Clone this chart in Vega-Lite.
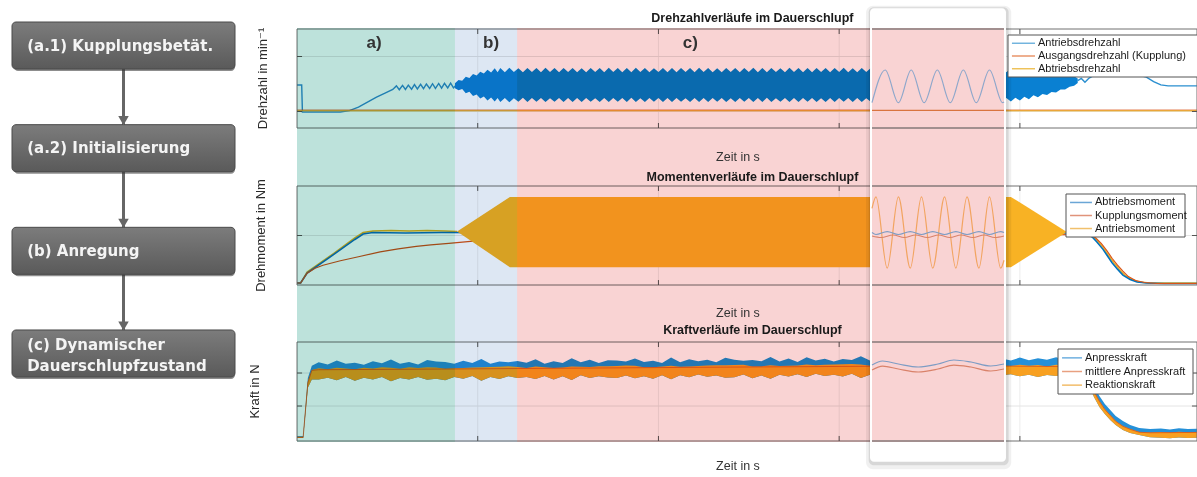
{
"$schema": "https://vega.github.io/schema/vega-lite/v6.json",
"width": 1197, "height": 477, "padding": 0, "autosize": {"type": "none"},
"background": "white",
"config": {"view": {"stroke": null}, "font": "Liberation Sans", "axis": {"disable": true}, "legend": {"disable": true}},
"datasets": {
"flow": [{"step":"(a.1) Kupplungsbetät.","next":"(a.2) Initialisierung"},{"step":"(a.2) Initialisierung","next":"(b) Anregung"},{"step":"(b) Anregung","next":"(c) Dynamischer\nDauerschlupfzustand"},{"step":"(c) Dynamischer\nDauerschlupfzustand","next":null}],
"phases": [{"phase":"a)","start":0,"end":4.37},{"phase":"b)","start":4.37,"end":6.09},{"phase":"c)","start":6.09,"end":19.59}],
"phaselabels": [{"label":"a)","t":2.13},{"label":"b)","t":5.37},{"label":"c)","t":10.88}],
"ticksx": [{"t":5},{"t":10},{"t":15},{"t":20}],
"ticks1": [{"v":0},{"v":1000}],
"ticks2": [{"v":0}],
"ticks3": [{"v":1000},{"v":2000}],
"p1lines": [
{"series":"Antriebsdrehzahl","seg":"a","t":0,"v":482},{"series":"Antriebsdrehzahl","seg":"a","t":0.13,"v":482},{"series":"Antriebsdrehzahl","seg":"a","t":0.15,"v":-9},{"series":"Antriebsdrehzahl","seg":"a","t":1.2,"v":-9},{"series":"Antriebsdrehzahl","seg":"a","t":1.45,"v":15},{"series":"Antriebsdrehzahl","seg":"a","t":1.7,"v":80},{"series":"Antriebsdrehzahl","seg":"a","t":1.95,"v":170},{"series":"Antriebsdrehzahl","seg":"a","t":2.2,"v":260},{"series":"Antriebsdrehzahl","seg":"a","t":2.45,"v":340},{"series":"Antriebsdrehzahl","seg":"a","t":2.65,"v":400},{"series":"Antriebsdrehzahl","seg":"a","t":2.75,"v":465},{"series":"Antriebsdrehzahl","seg":"a","t":2.83,"v":395},{"series":"Antriebsdrehzahl","seg":"a","t":2.92,"v":475},{"series":"Antriebsdrehzahl","seg":"a","t":3.0,"v":400},{"series":"Antriebsdrehzahl","seg":"a","t":3.08,"v":480},{"series":"Antriebsdrehzahl","seg":"a","t":3.17,"v":405},{"series":"Antriebsdrehzahl","seg":"a","t":3.25,"v":490},{"series":"Antriebsdrehzahl","seg":"a","t":3.33,"v":410},{"series":"Antriebsdrehzahl","seg":"a","t":3.42,"v":495},{"series":"Antriebsdrehzahl","seg":"a","t":3.5,"v":415},{"series":"Antriebsdrehzahl","seg":"a","t":3.58,"v":500},{"series":"Antriebsdrehzahl","seg":"a","t":3.67,"v":420},{"series":"Antriebsdrehzahl","seg":"a","t":3.75,"v":505},{"series":"Antriebsdrehzahl","seg":"a","t":3.83,"v":420},{"series":"Antriebsdrehzahl","seg":"a","t":3.92,"v":510},{"series":"Antriebsdrehzahl","seg":"a","t":4.0,"v":425},{"series":"Antriebsdrehzahl","seg":"a","t":4.08,"v":512},{"series":"Antriebsdrehzahl","seg":"a","t":4.17,"v":428},{"series":"Antriebsdrehzahl","seg":"a","t":4.25,"v":515},{"series":"Antriebsdrehzahl","seg":"a","t":4.33,"v":430},{"series":"Antriebsdrehzahl","seg":"a","t":4.4,"v":480},
{"series":"Antriebsdrehzahl","seg":"b","t":21.6,"v":560},{"series":"Antriebsdrehzahl","seg":"b","t":21.7,"v":600},{"series":"Antriebsdrehzahl","seg":"b","t":21.8,"v":530},{"series":"Antriebsdrehzahl","seg":"b","t":21.9,"v":600},{"series":"Antriebsdrehzahl","seg":"b","t":22.0,"v":640},{"series":"Antriebsdrehzahl","seg":"b","t":22.3,"v":660},{"series":"Antriebsdrehzahl","seg":"b","t":22.8,"v":655},{"series":"Antriebsdrehzahl","seg":"b","t":23.3,"v":660},{"series":"Antriebsdrehzahl","seg":"b","t":23.5,"v":625},{"series":"Antriebsdrehzahl","seg":"b","t":23.7,"v":545},{"series":"Antriebsdrehzahl","seg":"b","t":23.9,"v":485},{"series":"Antriebsdrehzahl","seg":"b","t":24.1,"v":466},{"series":"Antriebsdrehzahl","seg":"b","t":24.9,"v":466},
{"series":"Ausgangsdrehzahl (Kupplung)","seg":"a","t":0,"v":25},{"series":"Ausgangsdrehzahl (Kupplung)","seg":"a","t":24.9,"v":25},
{"series":"Abtriebsdrehzahl","seg":"a","t":0,"v":12},{"series":"Abtriebsdrehzahl","seg":"a","t":24.9,"v":12}
],
"p1band": [
{"t":4.37,"hi":515,"lo":425},{"t":4.47,"hi":575,"lo":385},{"t":4.57,"hi":560,"lo":410},{"t":4.67,"hi":630,"lo":330},{"t":4.77,"hi":610,"lo":360},{"t":4.87,"hi":680,"lo":280},{"t":4.97,"hi":655,"lo":310},{"t":5.07,"hi":725,"lo":235},{"t":5.17,"hi":690,"lo":275},{"t":5.27,"hi":760,"lo":200},{"t":5.37,"hi":710,"lo":255},{"t":5.47,"hi":785,"lo":180},{"t":5.55,"hi":715,"lo":245},
{"t":5.625,"hi":790,"lo":175},{"t":5.75,"hi":715,"lo":245},{"t":5.875,"hi":795,"lo":170},{"t":6.0,"hi":718,"lo":242},{"t":6.125,"hi":788,"lo":178},{"t":6.25,"hi":712,"lo":248},{"t":6.375,"hi":792,"lo":172},{"t":6.5,"hi":716,"lo":244},{"t":6.625,"hi":790,"lo":176},{"t":6.75,"hi":714,"lo":246},{"t":6.875,"hi":794,"lo":171},{"t":7.0,"hi":717,"lo":243},{"t":7.125,"hi":789,"lo":177},{"t":7.25,"hi":713,"lo":247},{"t":7.375,"hi":791,"lo":173},{"t":7.5,"hi":716,"lo":244},{"t":7.625,"hi":793,"lo":175},{"t":7.75,"hi":715,"lo":245},{"t":7.875,"hi":788,"lo":172},{"t":8.0,"hi":714,"lo":246},{"t":8.125,"hi":792,"lo":176},{"t":8.25,"hi":717,"lo":243},{"t":8.375,"hi":790,"lo":174},{"t":8.5,"hi":713,"lo":247},{"t":8.625,"hi":795,"lo":171},{"t":8.75,"hi":716,"lo":244},{"t":8.875,"hi":789,"lo":177},{"t":9.0,"hi":715,"lo":245},{"t":9.125,"hi":791,"lo":173},{"t":9.25,"hi":712,"lo":248},{"t":9.375,"hi":794,"lo":175},{"t":9.5,"hi":717,"lo":243},{"t":9.625,"hi":790,"lo":172},{"t":9.75,"hi":714,"lo":246},{"t":9.875,"hi":788,"lo":176},{"t":10.0,"hi":716,"lo":244},{"t":10.125,"hi":793,"lo":174},{"t":10.25,"hi":715,"lo":245},{"t":10.375,"hi":790,"lo":171},{"t":10.5,"hi":713,"lo":247},{"t":10.625,"hi":792,"lo":177},{"t":10.75,"hi":717,"lo":243},{"t":10.875,"hi":789,"lo":173},{"t":11.0,"hi":714,"lo":246},{"t":11.125,"hi":795,"lo":175},{"t":11.25,"hi":716,"lo":244},{"t":11.375,"hi":790,"lo":172},{"t":11.5,"hi":715,"lo":245},{"t":11.625,"hi":788,"lo":176},{"t":11.75,"hi":713,"lo":247},{"t":11.875,"hi":793,"lo":174},{"t":12.0,"hi":717,"lo":243},{"t":12.125,"hi":791,"lo":171},{"t":12.25,"hi":714,"lo":246},{"t":12.375,"hi":789,"lo":177},{"t":12.5,"hi":716,"lo":244},{"t":12.625,"hi":794,"lo":173},{"t":12.75,"hi":715,"lo":245},{"t":12.875,"hi":790,"lo":175},{"t":13.0,"hi":712,"lo":248},{"t":13.125,"hi":792,"lo":172},{"t":13.25,"hi":717,"lo":243},{"t":13.375,"hi":788,"lo":176},{"t":13.5,"hi":714,"lo":246},{"t":13.625,"hi":795,"lo":174},{"t":13.75,"hi":716,"lo":244},{"t":13.875,"hi":790,"lo":171},{"t":14.0,"hi":715,"lo":245},{"t":14.125,"hi":789,"lo":177},{"t":14.25,"hi":713,"lo":247},{"t":14.375,"hi":793,"lo":173},{"t":14.5,"hi":717,"lo":243},{"t":14.625,"hi":791,"lo":175},{"t":14.75,"hi":714,"lo":246},{"t":14.875,"hi":790,"lo":172},{"t":15.0,"hi":716,"lo":244},{"t":15.125,"hi":794,"lo":176},{"t":15.25,"hi":715,"lo":245},{"t":15.375,"hi":788,"lo":174},{"t":15.5,"hi":713,"lo":247},{"t":15.625,"hi":792,"lo":171},{"t":15.75,"hi":717,"lo":243},{"t":15.875,"hi":790,"lo":177},{"t":16.0,"hi":715,"lo":245},
{"t":19.5,"hi":790,"lo":175},{"t":19.625,"hi":715,"lo":245},{"t":19.75,"hi":790,"lo":180},{"t":19.875,"hi":715,"lo":250},{"t":20.0,"hi":785,"lo":200},{"t":20.125,"hi":710,"lo":270},{"t":20.25,"hi":775,"lo":225},{"t":20.375,"hi":705,"lo":295},{"t":20.5,"hi":760,"lo":260},{"t":20.625,"hi":695,"lo":320},{"t":20.75,"hi":740,"lo":300},{"t":20.875,"hi":680,"lo":355},{"t":21.0,"hi":715,"lo":345},{"t":21.125,"hi":660,"lo":400},{"t":21.25,"hi":680,"lo":400},{"t":21.375,"hi":630,"lo":450},{"t":21.5,"hi":640,"lo":470},{"t":21.6,"hi":600,"lo":520}
],
"p2lines": [
{"series":"Antriebsmoment","seg":"a","t":0,"v":-96},{"series":"Antriebsmoment","seg":"a","t":0.1,"v":-96},{"series":"Antriebsmoment","seg":"a","t":0.28,"v":-74},{"series":"Antriebsmoment","seg":"a","t":1.0,"v":-37},{"series":"Antriebsmoment","seg":"a","t":1.6,"v":-5},{"series":"Antriebsmoment","seg":"a","t":1.83,"v":6},{"series":"Antriebsmoment","seg":"a","t":2.1,"v":9},{"series":"Antriebsmoment","seg":"a","t":2.6,"v":10},{"series":"Antriebsmoment","seg":"a","t":3.1,"v":9},{"series":"Antriebsmoment","seg":"a","t":3.6,"v":10},{"series":"Antriebsmoment","seg":"a","t":4.1,"v":9},{"series":"Antriebsmoment","seg":"a","t":4.43,"v":8},
{"series":"Antriebsmoment","seg":"b","t":21.3,"v":7},{"series":"Antriebsmoment","seg":"b","t":21.86,"v":6},{"series":"Antriebsmoment","seg":"b","t":22.0,"v":0},{"series":"Antriebsmoment","seg":"b","t":22.13,"v":-9},{"series":"Antriebsmoment","seg":"b","t":22.3,"v":-24},{"series":"Antriebsmoment","seg":"b","t":22.45,"v":-40},{"series":"Antriebsmoment","seg":"b","t":22.6,"v":-55},{"series":"Antriebsmoment","seg":"b","t":22.75,"v":-68},{"series":"Antriebsmoment","seg":"b","t":22.9,"v":-80},{"series":"Antriebsmoment","seg":"b","t":23.1,"v":-89},{"series":"Antriebsmoment","seg":"b","t":23.3,"v":-94},{"series":"Antriebsmoment","seg":"b","t":23.6,"v":-96},{"series":"Antriebsmoment","seg":"b","t":24.9,"v":-96},
{"series":"Abtriebsmoment","seg":"a","t":0,"v":-96},{"series":"Abtriebsmoment","seg":"a","t":0.1,"v":-96},{"series":"Abtriebsmoment","seg":"a","t":0.28,"v":-76},{"series":"Abtriebsmoment","seg":"a","t":1.0,"v":-39},{"series":"Abtriebsmoment","seg":"a","t":1.6,"v":-8},{"series":"Abtriebsmoment","seg":"a","t":1.83,"v":3},{"series":"Abtriebsmoment","seg":"a","t":2.1,"v":6},{"series":"Abtriebsmoment","seg":"a","t":3.0,"v":5},{"series":"Abtriebsmoment","seg":"a","t":4.0,"v":6},{"series":"Abtriebsmoment","seg":"a","t":10,"v":5},{"series":"Abtriebsmoment","seg":"a","t":21.8,"v":5},{"series":"Abtriebsmoment","seg":"a","t":21.86,"v":4},{"series":"Abtriebsmoment","seg":"a","t":22.0,"v":-3},{"series":"Abtriebsmoment","seg":"a","t":22.13,"v":-13},{"series":"Abtriebsmoment","seg":"a","t":22.3,"v":-28},{"series":"Abtriebsmoment","seg":"a","t":22.41,"v":-40},{"series":"Abtriebsmoment","seg":"a","t":22.55,"v":-55},{"series":"Abtriebsmoment","seg":"a","t":22.7,"v":-68},{"series":"Abtriebsmoment","seg":"a","t":22.85,"v":-80},{"series":"Abtriebsmoment","seg":"a","t":23.05,"v":-89},{"series":"Abtriebsmoment","seg":"a","t":23.24,"v":-94},{"series":"Abtriebsmoment","seg":"a","t":23.5,"v":-96},{"series":"Abtriebsmoment","seg":"a","t":24.0,"v":-97},{"series":"Abtriebsmoment","seg":"a","t":24.9,"v":-97},
{"series":"Kupplungsmoment","seg":"a","t":0,"v":-96},{"series":"Kupplungsmoment","seg":"a","t":0.1,"v":-96},{"series":"Kupplungsmoment","seg":"a","t":0.28,"v":-76},{"series":"Kupplungsmoment","seg":"a","t":0.5,"v":-66},{"series":"Kupplungsmoment","seg":"a","t":0.72,"v":-60},{"series":"Kupplungsmoment","seg":"a","t":1.2,"v":-51},{"series":"Kupplungsmoment","seg":"a","t":1.7,"v":-43},{"series":"Kupplungsmoment","seg":"a","t":2.3,"v":-33},{"series":"Kupplungsmoment","seg":"a","t":2.8,"v":-27},{"series":"Kupplungsmoment","seg":"a","t":3.3,"v":-22},{"series":"Kupplungsmoment","seg":"a","t":3.7,"v":-19},{"series":"Kupplungsmoment","seg":"a","t":4.2,"v":-16},{"series":"Kupplungsmoment","seg":"a","t":4.8,"v":-12},{"series":"Kupplungsmoment","seg":"a","t":5.5,"v":-8},{"series":"Kupplungsmoment","seg":"a","t":6.5,"v":-4},{"series":"Kupplungsmoment","seg":"a","t":21.8,"v":2},{"series":"Kupplungsmoment","seg":"a","t":21.95,"v":1},{"series":"Kupplungsmoment","seg":"a","t":22.1,"v":-5},{"series":"Kupplungsmoment","seg":"a","t":22.25,"v":-16},{"series":"Kupplungsmoment","seg":"a","t":22.4,"v":-30},{"series":"Kupplungsmoment","seg":"a","t":22.55,"v":-46},{"series":"Kupplungsmoment","seg":"a","t":22.7,"v":-60},{"series":"Kupplungsmoment","seg":"a","t":22.85,"v":-72},{"series":"Kupplungsmoment","seg":"a","t":23.0,"v":-83},{"series":"Kupplungsmoment","seg":"a","t":23.2,"v":-91},{"series":"Kupplungsmoment","seg":"a","t":23.45,"v":-95},{"series":"Kupplungsmoment","seg":"a","t":23.8,"v":-97},{"series":"Kupplungsmoment","seg":"a","t":24.9,"v":-97}
],
"p2band": [{"t":4.43,"hi":8,"lo":8},{"t":5.89,"hi":78,"lo":-64},{"t":19.75,"hi":78,"lo":-64},{"t":21.3,"hi":7,"lo":7}],
"p3band": [
{"t":0,"bhi":90,"ohi":70,"olo":30},{"t":0.17,"bhi":90,"ohi":70,"olo":30},{"t":0.3,"bhi":1850,"ohi":1750,"olo":1550},{"t":0.41,"bhi":2220,"ohi":2090,"olo":1800},
{"t":0.6,"bhi":2324,"ohi":2144,"olo":1804},{"t":0.85,"bhi":2256,"ohi":2116,"olo":1856},{"t":1.1,"bhi":2378,"ohi":2158,"olo":1778},{"t":1.35,"bhi":2280,"ohi":2140,"olo":1880},{"t":1.6,"bhi":2312,"ohi":2112,"olo":1762},{"t":1.85,"bhi":2254,"ohi":2159,"olo":1854},{"t":2.1,"bhi":2356,"ohi":2136,"olo":1806},{"t":2.35,"bhi":2298,"ohi":2178,"olo":1878},{"t":2.6,"bhi":2410,"ohi":2160,"olo":1750},{"t":2.85,"bhi":2281,"ohi":2126,"olo":1851},{"t":3.1,"bhi":2333,"ohi":2173,"olo":1803},{"t":3.35,"bhi":2255,"ohi":2150,"olo":1880},{"t":3.6,"bhi":2397,"ohi":2177,"olo":1797},{"t":3.85,"bhi":2349,"ohi":2169,"olo":1829},{"t":4.1,"bhi":2331,"ohi":2131,"olo":1781},{"t":4.35,"bhi":2283,"ohi":2143,"olo":1883},{"t":4.6,"bhi":2375,"ohi":2155,"olo":1825},{"t":4.85,"bhi":2306,"ohi":2166,"olo":1906},{"t":5.1,"bhi":2428,"ohi":2178,"olo":1768},{"t":5.35,"bhi":2280,"ohi":2185,"olo":1880},{"t":5.6,"bhi":2352,"ohi":2192,"olo":1822},{"t":5.85,"bhi":2324,"ohi":2204,"olo":1904},{"t":6.1,"bhi":2366,"ohi":2186,"olo":1846},{"t":6.35,"bhi":2308,"ohi":2153,"olo":1878},{"t":6.6,"bhi":2420,"ohi":2200,"olo":1820},{"t":6.85,"bhi":2281,"ohi":2176,"olo":1906},{"t":7.1,"bhi":2353,"ohi":2153,"olo":1803},{"t":7.35,"bhi":2305,"ohi":2165,"olo":1905},{"t":7.6,"bhi":2447,"ohi":2197,"olo":1787},{"t":7.85,"bhi":2329,"ohi":2189,"olo":1929},{"t":8.1,"bhi":2401,"ohi":2181,"olo":1851},{"t":8.35,"bhi":2303,"ohi":2208,"olo":1903},{"t":8.6,"bhi":2385,"ohi":2205,"olo":1865},{"t":8.85,"bhi":2376,"ohi":2216,"olo":1846},{"t":9.1,"bhi":2348,"ohi":2228,"olo":1928},{"t":9.35,"bhi":2440,"ohi":2220,"olo":1840},{"t":9.6,"bhi":2332,"ohi":2177,"olo":1902},{"t":9.85,"bhi":2374,"ohi":2174,"olo":1824},{"t":10.1,"bhi":2306,"ohi":2201,"olo":1931},{"t":10.35,"bhi":2468,"ohi":2218,"olo":1808},{"t":10.6,"bhi":2330,"ohi":2190,"olo":1930},{"t":10.85,"bhi":2421,"ohi":2201,"olo":1871},{"t":11.1,"bhi":2353,"ohi":2213,"olo":1953},{"t":11.35,"bhi":2405,"ohi":2225,"olo":1885},{"t":11.6,"bhi":2327,"ohi":2232,"olo":1927},{"t":11.85,"bhi":2459,"ohi":2239,"olo":1859},{"t":12.1,"bhi":2401,"ohi":2241,"olo":1871},{"t":12.35,"bhi":2373,"ohi":2253,"olo":1953},{"t":12.6,"bhi":2395,"ohi":2195,"olo":1845},{"t":12.85,"bhi":2356,"ohi":2201,"olo":1926},{"t":13.1,"bhi":2488,"ohi":2238,"olo":1828},{"t":13.35,"bhi":2350,"ohi":2210,"olo":1950},{"t":13.6,"bhi":2442,"ohi":2222,"olo":1892},{"t":13.85,"bhi":2334,"ohi":2229,"olo":1959},{"t":14.1,"bhi":2476,"ohi":2256,"olo":1876},{"t":14.35,"bhi":2378,"ohi":2238,"olo":1978},{"t":14.6,"bhi":2430,"ohi":2250,"olo":1910},{"t":14.85,"bhi":2351,"ohi":2256,"olo":1951},{"t":15.1,"bhi":2423,"ohi":2263,"olo":1893},{"t":15.35,"bhi":2395,"ohi":2275,"olo":1975},{"t":15.6,"bhi":2507,"ohi":2257,"olo":1847},{"t":15.85,"bhi":2379,"ohi":2224,"olo":1949},{"t":16.1,"bhi":2421,"ohi":2221,"olo":1871},
{"t":19.5,"bhi":2440,"ohi":2230,"olo":1930},{"t":19.75,"bhi":2380,"ohi":2210,"olo":1960},{"t":20.0,"bhi":2470,"ohi":2250,"olo":1900},{"t":20.25,"bhi":2390,"ohi":2220,"olo":1950},{"t":20.5,"bhi":2450,"ohi":2240,"olo":1880},{"t":20.75,"bhi":2400,"ohi":2200,"olo":1940},{"t":21.0,"bhi":2480,"ohi":2250,"olo":1910},{"t":21.25,"bhi":2410,"ohi":2230,"olo":1960},{"t":21.5,"bhi":2440,"ohi":2210,"olo":1890},{"t":21.75,"bhi":2380,"ohi":2180,"olo":1880},
{"t":21.9,"bhi":2000,"ohi":1849,"olo":1637},{"t":22.05,"bhi":1607,"ohi":1455,"olo":1273},{"t":22.2,"bhi":1304,"ohi":1152,"olo":970},{"t":22.35,"bhi":1061,"ohi":910,"olo":758},{"t":22.5,"bhi":879,"ohi":728,"olo":576},{"t":22.65,"bhi":698,"ohi":546,"olo":425},{"t":22.85,"bhi":546,"ohi":394,"olo":273},{"t":23.05,"bhi":425,"ohi":304,"olo":182},{"t":23.3,"bhi":334,"ohi":213,"olo":122},{"t":23.6,"bhi":300,"ohi":200,"olo":50},{"t":23.9,"bhi":320,"ohi":215,"olo":40},{"t":24.15,"bhi":290,"ohi":200,"olo":25},{"t":24.4,"bhi":325,"ohi":220,"olo":45},{"t":24.65,"bhi":300,"ohi":205,"olo":30},{"t":24.9,"bhi":310,"ohi":215,"olo":40}
],
"p3mean": [{"t":0,"v":50},{"t":0.17,"v":50},{"t":0.3,"v":1700},{"t":0.41,"v":2080},{"t":0.6,"v":2100},{"t":4,"v":2120},{"t":8,"v":2150},{"t":12,"v":2180},{"t":16,"v":2205},{"t":19.5,"v":2210},{"t":21.75,"v":2190},{"t":21.9,"v":1830},{"t":22.05,"v":1440},{"t":22.2,"v":1140},{"t":22.35,"v":895},{"t":22.5,"v":715},{"t":22.65,"v":535},{"t":22.85,"v":385},{"t":23.05,"v":295},{"t":23.3,"v":205},{"t":23.6,"v":190},{"t":24.9,"v":200}],
"i1sine": [{"x":0,"v":160},{"x":0.1,"v":755},{"x":0.2,"v":160},{"x":0.297,"v":755},{"x":0.395,"v":160},{"x":0.495,"v":755},{"x":0.593,"v":160},{"x":0.692,"v":755},{"x":0.79,"v":160},{"x":0.89,"v":755},{"x":0.99,"v":160},{"x":1.0,"v":175}],
"i1out": [{"x":0,"v":20},{"x":1,"v":20}],
"i2ant": [{"x":0,"v":55},{"x":0.03,"v":78},{"x":0.115,"v":-66},{"x":0.2,"v":78},{"x":0.29,"v":-66},{"x":0.375,"v":78},{"x":0.46,"v":-66},{"x":0.55,"v":78},{"x":0.635,"v":-66},{"x":0.72,"v":78},{"x":0.81,"v":-66},{"x":0.89,"v":78},{"x":0.975,"v":-66},{"x":1.0,"v":-50}],
"i2abt": [{"x":0,"v":6},{"x":0.03,"v":2},{"x":0.115,"v":8},{"x":0.2,"v":2},{"x":0.29,"v":8},{"x":0.375,"v":2},{"x":0.46,"v":8},{"x":0.55,"v":2},{"x":0.635,"v":8},{"x":0.72,"v":2},{"x":0.81,"v":8},{"x":0.89,"v":2},{"x":0.975,"v":8},{"x":1.0,"v":6}],
"i2kup": [{"x":0,"v":-1},{"x":0.07,"v":-4},{"x":0.16,"v":1},{"x":0.245,"v":-4},{"x":0.33,"v":1},{"x":0.42,"v":-4},{"x":0.505,"v":1},{"x":0.59,"v":-4},{"x":0.675,"v":1},{"x":0.765,"v":-4},{"x":0.85,"v":1},{"x":0.93,"v":-4},{"x":1.0,"v":-1}],
"i3blue": [{"x":0,"v":2243},{"x":0.08,"v":2364},{"x":0.2,"v":2273},{"x":0.35,"v":2182},{"x":0.5,"v":2273},{"x":0.62,"v":2394},{"x":0.75,"v":2334},{"x":0.9,"v":2213},{"x":1.0,"v":2273}],
"i3red": [{"x":0,"v":2090},{"x":0.08,"v":2210},{"x":0.2,"v":2120},{"x":0.35,"v":2030},{"x":0.5,"v":2120},{"x":0.62,"v":2240},{"x":0.75,"v":2180},{"x":0.9,"v":2060},{"x":1.0,"v":2120}],
"leg1": [{"series":"Antriebsdrehzahl","i":0},{"series":"Ausgangsdrehzahl (Kupplung)","i":1},{"series":"Abtriebsdrehzahl","i":2}],
"leg2": [{"series":"Abtriebsmoment","i":0},{"series":"Kupplungsmoment","i":1},{"series":"Antriebsmoment","i":2}],
"leg3": [{"series":"Anpresskraft","i":0},{"series":"mittlere Anpresskraft","i":1},{"series":"Reaktionskraft","i":2}]
},
"layer": [
{"layer": [
 {"data":{"name":"flow"},"transform":[{"filter":"isValid(datum.next)"}],"mark":{"type":"rule","color":"#666666","strokeWidth":3},
  "encoding":{"x":{"datum":0.5,"type":"quantitative","scale":{"domain":[0,1],"range":[12,235],"nice":false,"zero":false}},
   "y":{"field":"step","type":"nominal","bandPosition":0.5,"scale":{"type":"band","domain":["(a.1) Kupplungsbetät.","(a.2) Initialisierung","(b) Anregung","(c) Dynamischer\nDauerschlupfzustand"],"range":[22,377],"paddingInner":0.542,"paddingOuter":0}},
   "y2":{"field":"next"}}},
 {"data":{"name":"flow"},"mark":{"type":"bar","color":"#303030","opacity":0.55,"cornerRadius":4,"xOffset":2,"yOffset":2},
  "encoding":{"x":{"datum":0,"type":"quantitative","scale":{"domain":[0,1],"range":[12,235],"nice":false,"zero":false}},"x2":{"datum":1},
   "y":{"field":"step","type":"nominal","scale":{"type":"band","domain":["(a.1) Kupplungsbetät.","(a.2) Initialisierung","(b) Anregung","(c) Dynamischer\nDauerschlupfzustand"],"range":[22,377],"paddingInner":0.542,"paddingOuter":0}}}},
 {"data":{"name":"flow"},"mark":{"type":"bar","cornerRadius":4,"stroke":"#4a4a4a","strokeWidth":1,"color":{"gradient":"linear","x1":0,"y1":0,"x2":0,"y2":1,"stops":[{"offset":0,"color":"#7c7c7c"},{"offset":1,"color":"#5a5a5a"}]}},
  "encoding":{"x":{"datum":0,"type":"quantitative","scale":{"domain":[0,1],"range":[12,235],"nice":false,"zero":false}},"x2":{"datum":1},
   "y":{"field":"step","type":"nominal","scale":{"type":"band","domain":["(a.1) Kupplungsbetät.","(a.2) Initialisierung","(b) Anregung","(c) Dynamischer\nDauerschlupfzustand"],"range":[22,377],"paddingInner":0.542,"paddingOuter":0}}}},
 {"data":{"name":"flow"},"transform":[{"filter":"isValid(datum.next)"}],"mark":{"type":"point","shape":"triangle-down","filled":true,"color":"#666666","size":110,"opacity":1,"yOffset":-4},
  "encoding":{"x":{"datum":0.5,"type":"quantitative","scale":{"domain":[0,1],"range":[12,235],"nice":false,"zero":false}},
   "y":{"field":"next","type":"nominal","bandPosition":0,"scale":{"type":"band","domain":["(a.1) Kupplungsbetät.","(a.2) Initialisierung","(b) Anregung","(c) Dynamischer\nDauerschlupfzustand"],"range":[22,377],"paddingInner":0.542,"paddingOuter":0}}}},
 {"data":{"name":"flow"},"transform":[{"filter":"isValid(datum.next)"}],"mark":{"type":"text","align":"left","baseline":"middle","font":"DejaVu Sans","fontWeight":"bold","fontSize":15,"color":"#f4f4f4"},
  "encoding":{"x":{"datum":0.068,"type":"quantitative","scale":{"domain":[0,1],"range":[12,235],"nice":false,"zero":false}},
   "y":{"field":"step","type":"nominal","bandPosition":0.5,"scale":{"type":"band","domain":["(a.1) Kupplungsbetät.","(a.2) Initialisierung","(b) Anregung","(c) Dynamischer\nDauerschlupfzustand"],"range":[22,377],"paddingInner":0.542,"paddingOuter":0}},
   "text":{"field":"step"}}},
 {"data":{"name":"flow"},"transform":[{"filter":"!isValid(datum.next)"}],"mark":{"type":"text","align":"left","baseline":"middle","font":"DejaVu Sans","fontWeight":"bold","fontSize":15,"color":"#f4f4f4","lineBreak":"\n","lineHeight":21,"dy":-8.5},
  "encoding":{"x":{"datum":0.068,"type":"quantitative","scale":{"domain":[0,1],"range":[12,235],"nice":false,"zero":false}},
   "y":{"field":"step","type":"nominal","bandPosition":0.5,"scale":{"type":"band","domain":["(a.1) Kupplungsbetät.","(a.2) Initialisierung","(b) Anregung","(c) Dynamischer\nDauerschlupfzustand"],"range":[22,377],"paddingInner":0.542,"paddingOuter":0}},
   "text":{"field":"step"}}}
]},
{"layer": [
 {"data":{"name":"ticksx"},"mark":{"type":"rule","color":"#ececec"},"encoding":{"x":{"field":"t","type":"quantitative","scale":{"domain":[0,24.9],"range":[297,1197],"nice":false,"zero":false}},"y":{"datum":-300,"type":"quantitative","scale":{"domain":[-300,1500],"range":[128,29],"nice":false,"zero":false}},"y2":{"datum":1500}}},
 {"data":{"name":"ticks1"},"mark":{"type":"rule","color":"#e4e4e4"},"encoding":{"y":{"field":"v","type":"quantitative","scale":{"domain":[-300,1500],"range":[128,29],"nice":false,"zero":false}},"x":{"datum":0,"type":"quantitative","scale":{"domain":[0,24.9],"range":[297,1197],"nice":false,"zero":false}},"x2":{"datum":24.9}}},
 {"data":{"name":"p1lines"},"transform":[{"filter":"datum.series==='Antriebsdrehzahl'"}],"mark":{"type":"line","color":"#2a8fd0","strokeWidth":1.4},"encoding":{"x":{"field":"t","type":"quantitative","scale":{"domain":[0,24.9],"range":[297,1197],"nice":false,"zero":false}},"y":{"field":"v","type":"quantitative","scale":{"domain":[-300,1500],"range":[128,29],"nice":false,"zero":false}},"detail":{"field":"seg","type":"nominal"}}},
 {"data":{"name":"p1band"},"mark":{"type":"area","color":"#0A80D2","opacity":1},"encoding":{"x":{"field":"t","type":"quantitative","scale":{"domain":[0,24.9],"range":[297,1197],"nice":false,"zero":false}},"y":{"field":"hi","type":"quantitative","scale":{"domain":[-300,1500],"range":[128,29],"nice":false,"zero":false}},"y2":{"field":"lo"}}},
 {"data":{"name":"p1lines"},"transform":[{"filter":"datum.series==='Ausgangsdrehzahl (Kupplung)'"}],"mark":{"type":"line","color":"#D95319","strokeWidth":1},"encoding":{"x":{"field":"t","type":"quantitative","scale":{"domain":[0,24.9],"range":[297,1197],"nice":false,"zero":false}},"y":{"field":"v","type":"quantitative","scale":{"domain":[-300,1500],"range":[128,29],"nice":false,"zero":false}}}},
 {"data":{"name":"p1lines"},"transform":[{"filter":"datum.series==='Abtriebsdrehzahl'"}],"mark":{"type":"line","color":"#EDB120","strokeWidth":1},"encoding":{"x":{"field":"t","type":"quantitative","scale":{"domain":[0,24.9],"range":[297,1197],"nice":false,"zero":false}},"y":{"field":"v","type":"quantitative","scale":{"domain":[-300,1500],"range":[128,29],"nice":false,"zero":false}}}},
 {"data":{"values":[{}]},"mark":{"type":"rect","filled":false,"color":"#707070","strokeWidth":1},"encoding":{"x":{"datum":0,"type":"quantitative","scale":{"domain":[0,24.9],"range":[297,1197],"nice":false,"zero":false}},"x2":{"datum":24.9},"y":{"datum":-300,"type":"quantitative","scale":{"domain":[-300,1500],"range":[128,29],"nice":false,"zero":false}},"y2":{"datum":1500}}},
 {"data":{"name":"ticksx"},"mark":{"type":"rule","color":"#555555"},"encoding":{"x":{"field":"t","type":"quantitative","scale":{"domain":[0,24.9],"range":[297,1197],"nice":false,"zero":false}},"y":{"datum":1500,"type":"quantitative","scale":{"domain":[-300,1500],"range":[128,29],"nice":false,"zero":false}},"y2":{"datum":1409}}},
 {"data":{"name":"ticksx"},"mark":{"type":"rule","color":"#555555"},"encoding":{"x":{"field":"t","type":"quantitative","scale":{"domain":[0,24.9],"range":[297,1197],"nice":false,"zero":false}},"y":{"datum":-300,"type":"quantitative","scale":{"domain":[-300,1500],"range":[128,29],"nice":false,"zero":false}},"y2":{"datum":-209}}},
 {"data":{"name":"ticks1"},"mark":{"type":"rule","color":"#555555"},"encoding":{"y":{"field":"v","type":"quantitative","scale":{"domain":[-300,1500],"range":[128,29],"nice":false,"zero":false}},"x":{"datum":0,"type":"quantitative","scale":{"domain":[0,24.9],"range":[297,1197],"nice":false,"zero":false}},"x2":{"datum":0.14}}},
 {"data":{"name":"ticks1"},"mark":{"type":"rule","color":"#555555"},"encoding":{"y":{"field":"v","type":"quantitative","scale":{"domain":[-300,1500],"range":[128,29],"nice":false,"zero":false}},"x":{"datum":24.76,"type":"quantitative","scale":{"domain":[0,24.9],"range":[297,1197],"nice":false,"zero":false}},"x2":{"datum":24.9}}}
]},
{"layer": [
 {"data":{"name":"ticksx"},"mark":{"type":"rule","color":"#ececec"},"encoding":{"x":{"field":"t","type":"quantitative","scale":{"domain":[0,24.9],"range":[297,1197],"nice":false,"zero":false}},"y":{"datum":-100,"type":"quantitative","scale":{"domain":[-100,100],"range":[285,186],"nice":false,"zero":false}},"y2":{"datum":100}}},
 {"data":{"name":"ticks2"},"mark":{"type":"rule","color":"#e4e4e4"},"encoding":{"y":{"field":"v","type":"quantitative","scale":{"domain":[-100,100],"range":[285,186],"nice":false,"zero":false}},"x":{"datum":0,"type":"quantitative","scale":{"domain":[0,24.9],"range":[297,1197],"nice":false,"zero":false}},"x2":{"datum":24.9}}},
 {"data":{"name":"p2lines"},"transform":[{"filter":"datum.series==='Antriebsmoment'"}],"mark":{"type":"line","color":"#EDB120","strokeWidth":1.5},"encoding":{"x":{"field":"t","type":"quantitative","scale":{"domain":[0,24.9],"range":[297,1197],"nice":false,"zero":false}},"y":{"field":"v","type":"quantitative","scale":{"domain":[-100,100],"range":[285,186],"nice":false,"zero":false}},"detail":{"field":"seg","type":"nominal"}}},
 {"data":{"name":"p2lines"},"transform":[{"filter":"datum.series==='Abtriebsmoment'"}],"mark":{"type":"line","color":"#0072BD","strokeWidth":1.6},"encoding":{"x":{"field":"t","type":"quantitative","scale":{"domain":[0,24.9],"range":[297,1197],"nice":false,"zero":false}},"y":{"field":"v","type":"quantitative","scale":{"domain":[-100,100],"range":[285,186],"nice":false,"zero":false}}}},
 {"data":{"name":"p2lines"},"transform":[{"filter":"datum.series==='Kupplungsmoment'"}],"mark":{"type":"line","color":"#D95319","strokeWidth":1.2},"encoding":{"x":{"field":"t","type":"quantitative","scale":{"domain":[0,24.9],"range":[297,1197],"nice":false,"zero":false}},"y":{"field":"v","type":"quantitative","scale":{"domain":[-100,100],"range":[285,186],"nice":false,"zero":false}}}},
 {"data":{"name":"p2band"},"mark":{"type":"area","color":"#F8B224","opacity":1},"encoding":{"x":{"field":"t","type":"quantitative","scale":{"domain":[0,24.9],"range":[297,1197],"nice":false,"zero":false}},"y":{"field":"hi","type":"quantitative","scale":{"domain":[-100,100],"range":[285,186],"nice":false,"zero":false}},"y2":{"field":"lo"}}},
 {"data":{"values":[{}]},"mark":{"type":"rect","filled":false,"color":"#707070","strokeWidth":1},"encoding":{"x":{"datum":0,"type":"quantitative","scale":{"domain":[0,24.9],"range":[297,1197],"nice":false,"zero":false}},"x2":{"datum":24.9},"y":{"datum":-100,"type":"quantitative","scale":{"domain":[-100,100],"range":[285,186],"nice":false,"zero":false}},"y2":{"datum":100}}},
 {"data":{"name":"ticksx"},"mark":{"type":"rule","color":"#555555"},"encoding":{"x":{"field":"t","type":"quantitative","scale":{"domain":[0,24.9],"range":[297,1197],"nice":false,"zero":false}},"y":{"datum":100,"type":"quantitative","scale":{"domain":[-100,100],"range":[285,186],"nice":false,"zero":false}},"y2":{"datum":90}}},
 {"data":{"name":"ticksx"},"mark":{"type":"rule","color":"#555555"},"encoding":{"x":{"field":"t","type":"quantitative","scale":{"domain":[0,24.9],"range":[297,1197],"nice":false,"zero":false}},"y":{"datum":-100,"type":"quantitative","scale":{"domain":[-100,100],"range":[285,186],"nice":false,"zero":false}},"y2":{"datum":-90}}},
 {"data":{"name":"ticks2"},"mark":{"type":"rule","color":"#555555"},"encoding":{"y":{"field":"v","type":"quantitative","scale":{"domain":[-100,100],"range":[285,186],"nice":false,"zero":false}},"x":{"datum":0,"type":"quantitative","scale":{"domain":[0,24.9],"range":[297,1197],"nice":false,"zero":false}},"x2":{"datum":0.14}}},
 {"data":{"name":"ticks2"},"mark":{"type":"rule","color":"#555555"},"encoding":{"y":{"field":"v","type":"quantitative","scale":{"domain":[-100,100],"range":[285,186],"nice":false,"zero":false}},"x":{"datum":24.76,"type":"quantitative","scale":{"domain":[0,24.9],"range":[297,1197],"nice":false,"zero":false}},"x2":{"datum":24.9}}}
]},
{"layer": [
 {"data":{"name":"ticksx"},"mark":{"type":"rule","color":"#ececec"},"encoding":{"x":{"field":"t","type":"quantitative","scale":{"domain":[0,24.9],"range":[297,1197],"nice":false,"zero":false}},"y":{"datum":-60,"type":"quantitative","scale":{"domain":[-60,2940],"range":[441,342],"nice":false,"zero":false}},"y2":{"datum":2940}}},
 {"data":{"name":"ticks3"},"mark":{"type":"rule","color":"#e4e4e4"},"encoding":{"y":{"field":"v","type":"quantitative","scale":{"domain":[-60,2940],"range":[441,342],"nice":false,"zero":false}},"x":{"datum":0,"type":"quantitative","scale":{"domain":[0,24.9],"range":[297,1197],"nice":false,"zero":false}},"x2":{"datum":24.9}}},
 {"data":{"name":"p3band"},"mark":{"type":"area","color":"#2590D8","opacity":1},"encoding":{"x":{"field":"t","type":"quantitative","scale":{"domain":[0,24.9],"range":[297,1197],"nice":false,"zero":false}},"y":{"field":"bhi","type":"quantitative","scale":{"domain":[-60,2940],"range":[441,342],"nice":false,"zero":false}},"y2":{"field":"olo"}}},
 {"data":{"name":"p3band"},"mark":{"type":"area","color":"#F8A020","opacity":1},"encoding":{"x":{"field":"t","type":"quantitative","scale":{"domain":[0,24.9],"range":[297,1197],"nice":false,"zero":false}},"y":{"field":"ohi","type":"quantitative","scale":{"domain":[-60,2940],"range":[441,342],"nice":false,"zero":false}},"y2":{"field":"olo"}}},
 {"data":{"name":"p3mean"},"mark":{"type":"line","color":"#D95319","strokeWidth":1,"opacity":0.8},"encoding":{"x":{"field":"t","type":"quantitative","scale":{"domain":[0,24.9],"range":[297,1197],"nice":false,"zero":false}},"y":{"field":"v","type":"quantitative","scale":{"domain":[-60,2940],"range":[441,342],"nice":false,"zero":false}}}},
 {"data":{"values":[{}]},"mark":{"type":"rect","filled":false,"color":"#707070","strokeWidth":1},"encoding":{"x":{"datum":0,"type":"quantitative","scale":{"domain":[0,24.9],"range":[297,1197],"nice":false,"zero":false}},"x2":{"datum":24.9},"y":{"datum":-60,"type":"quantitative","scale":{"domain":[-60,2940],"range":[441,342],"nice":false,"zero":false}},"y2":{"datum":2940}}},
 {"data":{"name":"ticksx"},"mark":{"type":"rule","color":"#555555"},"encoding":{"x":{"field":"t","type":"quantitative","scale":{"domain":[0,24.9],"range":[297,1197],"nice":false,"zero":false}},"y":{"datum":2940,"type":"quantitative","scale":{"domain":[-60,2940],"range":[441,342],"nice":false,"zero":false}},"y2":{"datum":2788}}},
 {"data":{"name":"ticksx"},"mark":{"type":"rule","color":"#555555"},"encoding":{"x":{"field":"t","type":"quantitative","scale":{"domain":[0,24.9],"range":[297,1197],"nice":false,"zero":false}},"y":{"datum":-60,"type":"quantitative","scale":{"domain":[-60,2940],"range":[441,342],"nice":false,"zero":false}},"y2":{"datum":92}}},
 {"data":{"name":"ticks3"},"mark":{"type":"rule","color":"#555555"},"encoding":{"y":{"field":"v","type":"quantitative","scale":{"domain":[-60,2940],"range":[441,342],"nice":false,"zero":false}},"x":{"datum":0,"type":"quantitative","scale":{"domain":[0,24.9],"range":[297,1197],"nice":false,"zero":false}},"x2":{"datum":0.14}}},
 {"data":{"name":"ticks3"},"mark":{"type":"rule","color":"#555555"},"encoding":{"y":{"field":"v","type":"quantitative","scale":{"domain":[-60,2940],"range":[441,342],"nice":false,"zero":false}},"x":{"datum":24.76,"type":"quantitative","scale":{"domain":[0,24.9],"range":[297,1197],"nice":false,"zero":false}},"x2":{"datum":24.9}}}
]},
{"data":{"values":[{}]},"layer": [
 {"data":{"name":"phases"},"mark":{"type":"rect","blend":"multiply"},"encoding":{"x":{"field":"start","type":"quantitative","scale":{"domain":[0,24.9],"range":[297,1197],"nice":false,"zero":false}},"x2":{"field":"end"},"y":{"datum":0,"type":"quantitative","scale":{"domain":[0,1],"range":[442,28],"nice":false,"zero":false}},"y2":{"datum":1},
   "fill":{"field":"phase","type":"nominal","scale":{"domain":["a)","b)","c)"],"range":["#BDE2DB","#DDE7F3","#F9D3D3"]},"legend":null}}},
 {"data":{"name":"phaselabels"},"mark":{"type":"text","fontSize":17,"fontWeight":"bold","color":"#333333"},"encoding":{"x":{"field":"t","type":"quantitative","scale":{"domain":[0,24.9],"range":[297,1197],"nice":false,"zero":false}},"y":{"datum":0.964,"type":"quantitative","scale":{"domain":[0,1],"range":[442,28],"nice":false,"zero":false}},"text":{"field":"label"}}},
 {"mark":{"type":"text","text":"Drehzahlverläufe im Dauerschlupf","fontSize":12.5,"fontWeight":"bold","color":"#1a1a1a"},"encoding":{"x":{"datum":12.6,"type":"quantitative","scale":{"domain":[0,24.9],"range":[297,1197],"nice":false,"zero":false}},"y":{"datum":1.024,"type":"quantitative","scale":{"domain":[0,1],"range":[442,28],"nice":false,"zero":false}}}},
 {"mark":{"type":"text","text":"Momentenverläufe im Dauerschlupf","fontSize":12.5,"fontWeight":"bold","color":"#1a1a1a"},"encoding":{"x":{"datum":12.6,"type":"quantitative","scale":{"domain":[0,24.9],"range":[297,1197],"nice":false,"zero":false}},"y":{"datum":0.64,"type":"quantitative","scale":{"domain":[0,1],"range":[442,28],"nice":false,"zero":false}}}},
 {"mark":{"type":"text","text":"Kraftverläufe im Dauerschlupf","fontSize":12.5,"fontWeight":"bold","color":"#1a1a1a"},"encoding":{"x":{"datum":12.6,"type":"quantitative","scale":{"domain":[0,24.9],"range":[297,1197],"nice":false,"zero":false}},"y":{"datum":0.2705,"type":"quantitative","scale":{"domain":[0,1],"range":[442,28],"nice":false,"zero":false}}}},
 {"mark":{"type":"text","text":"Zeit in s","fontSize":12.5,"color":"#333333"},"encoding":{"x":{"datum":12.2,"type":"quantitative","scale":{"domain":[0,24.9],"range":[297,1197],"nice":false,"zero":false}},"y":{"datum":0.688,"type":"quantitative","scale":{"domain":[0,1],"range":[442,28],"nice":false,"zero":false}}}},
 {"mark":{"type":"text","text":"Zeit in s","fontSize":12.5,"color":"#333333"},"encoding":{"x":{"datum":12.2,"type":"quantitative","scale":{"domain":[0,24.9],"range":[297,1197],"nice":false,"zero":false}},"y":{"datum":0.3116,"type":"quantitative","scale":{"domain":[0,1],"range":[442,28],"nice":false,"zero":false}}}},
 {"mark":{"type":"text","text":"Zeit in s","fontSize":12.5,"color":"#333333"},"encoding":{"x":{"datum":12.2,"type":"quantitative","scale":{"domain":[0,24.9],"range":[297,1197],"nice":false,"zero":false}},"y":{"datum":-0.058,"type":"quantitative","scale":{"domain":[0,1],"range":[442,28],"nice":false,"zero":false}}}},
 {"mark":{"type":"text","text":"Drehzahl in min⁻¹","angle":270,"fontSize":13,"color":"#2a2a2a","font":"Liberation Sans, DejaVu Sans"},"encoding":{"x":{"datum":-0.94,"type":"quantitative","scale":{"domain":[0,24.9],"range":[297,1197],"nice":false,"zero":false}},"y":{"datum":0.878,"type":"quantitative","scale":{"domain":[0,1],"range":[442,28],"nice":false,"zero":false}}}},
 {"mark":{"type":"text","text":"Drehmoment in Nm","angle":270,"fontSize":13,"color":"#2a2a2a"},"encoding":{"x":{"datum":-1.0,"type":"quantitative","scale":{"domain":[0,24.9],"range":[297,1197],"nice":false,"zero":false}},"y":{"datum":0.4988,"type":"quantitative","scale":{"domain":[0,1],"range":[442,28],"nice":false,"zero":false}}}},
 {"mark":{"type":"text","text":"Kraft in N","angle":270,"fontSize":13,"color":"#2a2a2a"},"encoding":{"x":{"datum":-1.16,"type":"quantitative","scale":{"domain":[0,24.9],"range":[297,1197],"nice":false,"zero":false}},"y":{"datum":0.122,"type":"quantitative","scale":{"domain":[0,1],"range":[442,28],"nice":false,"zero":false}}}}
]},
{"layer": [
 {"data":{"values":[{}]},"layer":[
  {"mark":{"type":"rect","color":"#000000","opacity":0.06,"cornerRadius":7},"encoding":{"x":{"datum":-0.045,"type":"quantitative","scale":{"domain":[0,1],"range":[872,1004],"nice":false,"zero":false}},"x2":{"datum":1.055},"y":{"datum":-0.066,"type":"quantitative","scale":{"domain":[0,1],"range":[442,28],"nice":false,"zero":false}},"y2":{"datum":1.054}}},
  {"mark":{"type":"rect","color":"#000000","opacity":0.1,"cornerRadius":5},"encoding":{"x":{"datum":-0.025,"type":"quantitative","scale":{"domain":[0,1],"range":[872,1004],"nice":false,"zero":false}},"x2":{"datum":1.035},"y":{"datum":-0.056,"type":"quantitative","scale":{"domain":[0,1],"range":[442,28],"nice":false,"zero":false}},"y2":{"datum":1.05}}},
  {"mark":{"type":"rect","color":"#ffffff","opacity":1,"cornerRadius":4},"encoding":{"x":{"datum":-0.015,"type":"quantitative","scale":{"domain":[0,1],"range":[872,1004],"nice":false,"zero":false}},"x2":{"datum":1.015},"y":{"datum":-0.048,"type":"quantitative","scale":{"domain":[0,1],"range":[442,28],"nice":false,"zero":false}},"y2":{"datum":1.048}}},
  {"mark":{"type":"rect","color":"#F9D3D3","opacity":1},"encoding":{"x":{"datum":0,"type":"quantitative","scale":{"domain":[0,1],"range":[872,1004],"nice":false,"zero":false}},"x2":{"datum":1},"y":{"datum":0,"type":"quantitative","scale":{"domain":[0,1],"range":[442,28],"nice":false,"zero":false}},"y2":{"datum":1}}}
 ]},
 {"layer":[
  {"data":{"values":[{"v":-300},{"v":1500}]},"mark":{"type":"rule","color":"#4d4d4d","strokeWidth":1.2},"encoding":{"y":{"field":"v","type":"quantitative","scale":{"domain":[-300,1500],"range":[128,29],"nice":false,"zero":false}},"x":{"datum":0,"type":"quantitative","scale":{"domain":[0,1],"range":[872,1004],"nice":false,"zero":false}},"x2":{"datum":1}}},
  {"data":{"name":"i1sine"},"mark":{"type":"line","color":"#8ea7cb","strokeWidth":1.2,"interpolate":"monotone"},"encoding":{"x":{"field":"x","type":"quantitative","scale":{"domain":[0,1],"range":[872,1004],"nice":false,"zero":false}},"y":{"field":"v","type":"quantitative","scale":{"domain":[-300,1500],"range":[128,29],"nice":false,"zero":false}}}},
  {"data":{"name":"i1out"},"mark":{"type":"line","color":"#d9743f","strokeWidth":1.2},"encoding":{"x":{"field":"x","type":"quantitative","scale":{"domain":[0,1],"range":[872,1004],"nice":false,"zero":false}},"y":{"field":"v","type":"quantitative","scale":{"domain":[-300,1500],"range":[128,29],"nice":false,"zero":false}}}}
 ]},
 {"layer":[
  {"data":{"values":[{"v":-100},{"v":100}]},"mark":{"type":"rule","color":"#4d4d4d","strokeWidth":1.2},"encoding":{"y":{"field":"v","type":"quantitative","scale":{"domain":[-100,100],"range":[285,186],"nice":false,"zero":false}},"x":{"datum":0,"type":"quantitative","scale":{"domain":[0,1],"range":[872,1004],"nice":false,"zero":false}},"x2":{"datum":1}}},
  {"data":{"name":"i2ant"},"mark":{"type":"line","color":"#f2a460","strokeWidth":1.2,"interpolate":"monotone"},"encoding":{"x":{"field":"x","type":"quantitative","scale":{"domain":[0,1],"range":[872,1004],"nice":false,"zero":false}},"y":{"field":"v","type":"quantitative","scale":{"domain":[-100,100],"range":[285,186],"nice":false,"zero":false}}}},
  {"data":{"name":"i2kup"},"mark":{"type":"line","color":"#d9826a","strokeWidth":1.1,"interpolate":"monotone"},"encoding":{"x":{"field":"x","type":"quantitative","scale":{"domain":[0,1],"range":[872,1004],"nice":false,"zero":false}},"y":{"field":"v","type":"quantitative","scale":{"domain":[-100,100],"range":[285,186],"nice":false,"zero":false}}}},
  {"data":{"name":"i2abt"},"mark":{"type":"line","color":"#7d9cc4","strokeWidth":1.2,"interpolate":"monotone"},"encoding":{"x":{"field":"x","type":"quantitative","scale":{"domain":[0,1],"range":[872,1004],"nice":false,"zero":false}},"y":{"field":"v","type":"quantitative","scale":{"domain":[-100,100],"range":[285,186],"nice":false,"zero":false}}}}
 ]},
 {"layer":[
  {"data":{"values":[{"v":-60},{"v":2940}]},"mark":{"type":"rule","color":"#4d4d4d","strokeWidth":1.2},"encoding":{"y":{"field":"v","type":"quantitative","scale":{"domain":[-60,2940],"range":[441,342],"nice":false,"zero":false}},"x":{"datum":0,"type":"quantitative","scale":{"domain":[0,1],"range":[872,1004],"nice":false,"zero":false}},"x2":{"datum":1}}},
  {"data":{"name":"i3red"},"mark":{"type":"line","color":"#d9826a","strokeWidth":1.1,"interpolate":"monotone"},"encoding":{"x":{"field":"x","type":"quantitative","scale":{"domain":[0,1],"range":[872,1004],"nice":false,"zero":false}},"y":{"field":"v","type":"quantitative","scale":{"domain":[-60,2940],"range":[441,342],"nice":false,"zero":false}}}},
  {"data":{"name":"i3blue"},"mark":{"type":"line","color":"#7d9cc4","strokeWidth":1.2,"interpolate":"monotone"},"encoding":{"x":{"field":"x","type":"quantitative","scale":{"domain":[0,1],"range":[872,1004],"nice":false,"zero":false}},"y":{"field":"v","type":"quantitative","scale":{"domain":[-60,2940],"range":[441,342],"nice":false,"zero":false}}}}
 ]}
],
"resolve":{"scale":{"y":"independent"}}},
{"layer": [
 {"data":{"values":[{}]},"mark":{"type":"rect","fill":"white","stroke":"#555555","strokeWidth":1},"encoding":{"x":{"datum":0,"type":"quantitative","scale":{"domain":[0,1],"range":[1008,1205],"nice":false,"zero":false}},"x2":{"datum":1},"y":{"datum":-0.65,"type":"quantitative","scale":{"domain":[-0.65,2.65],"range":[35,77],"nice":false,"zero":false}},"y2":{"datum":2.65}}},
 {"data":{"name":"leg1"},"mark":{"type":"rule","strokeWidth":1.5},"encoding":{"x":{"datum":0.02,"type":"quantitative","scale":{"domain":[0,1],"range":[1008,1205],"nice":false,"zero":false}},"x2":{"datum":0.137},"y":{"field":"i","type":"quantitative","scale":{"domain":[-0.65,2.65],"range":[35,77],"nice":false,"zero":false}},"stroke":{"field":"series","type":"nominal","scale":{"domain":["Antriebsdrehzahl","Ausgangsdrehzahl (Kupplung)","Abtriebsdrehzahl"],"range":["#72b4de","#e8956a","#eec25a"]},"legend":null}}},
 {"data":{"name":"leg1"},"mark":{"type":"text","align":"left","baseline":"middle","fontSize":11,"color":"#1a1a1a"},"encoding":{"x":{"datum":0.152,"type":"quantitative","scale":{"domain":[0,1],"range":[1008,1205],"nice":false,"zero":false}},"y":{"field":"i","type":"quantitative","scale":{"domain":[-0.65,2.65],"range":[35,77],"nice":false,"zero":false}},"text":{"field":"series"}}}
]},
{"layer": [
 {"data":{"values":[{}]},"mark":{"type":"rect","fill":"white","stroke":"#555555","strokeWidth":1},"encoding":{"x":{"datum":0,"type":"quantitative","scale":{"domain":[0,1],"range":[1066,1185],"nice":false,"zero":false}},"x2":{"datum":1},"y":{"datum":-0.65,"type":"quantitative","scale":{"domain":[-0.65,2.65],"range":[194,237],"nice":false,"zero":false}},"y2":{"datum":2.65}}},
 {"data":{"name":"leg2"},"mark":{"type":"rule","strokeWidth":1.5},"encoding":{"x":{"datum":0.034,"type":"quantitative","scale":{"domain":[0,1],"range":[1066,1185],"nice":false,"zero":false}},"x2":{"datum":0.218},"y":{"field":"i","type":"quantitative","scale":{"domain":[-0.65,2.65],"range":[194,237],"nice":false,"zero":false}},"stroke":{"field":"series","type":"nominal","scale":{"domain":["Abtriebsmoment","Kupplungsmoment","Antriebsmoment"],"range":["#6aa6d6","#e0937a","#f1c06c"]},"legend":null}}},
 {"data":{"name":"leg2"},"mark":{"type":"text","align":"left","baseline":"middle","fontSize":11,"color":"#1a1a1a"},"encoding":{"x":{"datum":0.244,"type":"quantitative","scale":{"domain":[0,1],"range":[1066,1185],"nice":false,"zero":false}},"y":{"field":"i","type":"quantitative","scale":{"domain":[-0.65,2.65],"range":[194,237],"nice":false,"zero":false}},"text":{"field":"series"}}}
]},
{"layer": [
 {"data":{"values":[{}]},"mark":{"type":"rect","fill":"white","stroke":"#555555","strokeWidth":1},"encoding":{"x":{"datum":0,"type":"quantitative","scale":{"domain":[0,1],"range":[1058,1193],"nice":false,"zero":false}},"x2":{"datum":1},"y":{"datum":-0.65,"type":"quantitative","scale":{"domain":[-0.65,2.65],"range":[349,394],"nice":false,"zero":false}},"y2":{"datum":2.65}}},
 {"data":{"name":"leg3"},"mark":{"type":"rule","strokeWidth":1.5},"encoding":{"x":{"datum":0.03,"type":"quantitative","scale":{"domain":[0,1],"range":[1058,1193],"nice":false,"zero":false}},"x2":{"datum":0.178},"y":{"field":"i","type":"quantitative","scale":{"domain":[-0.65,2.65],"range":[349,394],"nice":false,"zero":false}},"stroke":{"field":"series","type":"nominal","scale":{"domain":["Anpresskraft","mittlere Anpresskraft","Reaktionskraft"],"range":["#6fb0e0","#e8a080","#f2bd6a"]},"legend":null}}},
 {"data":{"name":"leg3"},"mark":{"type":"text","align":"left","baseline":"middle","fontSize":11,"color":"#1a1a1a"},"encoding":{"x":{"datum":0.2,"type":"quantitative","scale":{"domain":[0,1],"range":[1058,1193],"nice":false,"zero":false}},"y":{"field":"i","type":"quantitative","scale":{"domain":[-0.65,2.65],"range":[349,394],"nice":false,"zero":false}},"text":{"field":"series"}}}
]}
],
"resolve": {"scale": {"x": "independent", "y": "independent", "fill": "independent", "stroke": "independent", "color": "independent"}}
}
